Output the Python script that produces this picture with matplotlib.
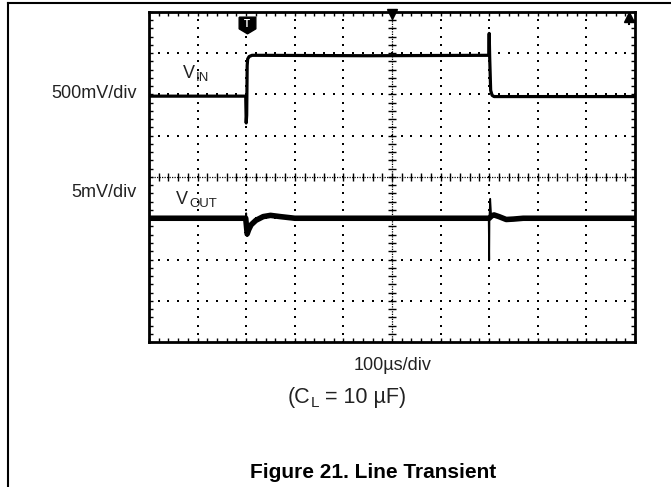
import matplotlib
matplotlib.use("Agg")
import matplotlib.pyplot as plt
from matplotlib.lines import Line2D
import numpy as np

plt.rcParams['font.family'] = ['Liberation Sans', 'DejaVu Sans']

# scope traces, in divisions (x: 0..10, y: 0..8)
vin_x = [0.0, 1.99, 2.0, 2.01, 2.02, 2.03, 2.06, 2.12, 2.2, 4.5, 6.99, 7.0, 7.01, 7.03, 7.06, 7.1, 8.5, 10.0]
vin_y = [5.96, 5.96, 5.31, 5.5, 6.7, 6.86, 6.92, 6.95, 6.95, 6.94, 6.95, 7.48, 6.9, 6.1, 5.98, 5.95, 5.95, 5.95]

# VOUT noise band (thick) and the thin switching spikes
vout_x = [0.0, 1.99, 2.02, 2.05, 2.1, 2.2, 2.35, 2.5, 2.7, 3.0, 7.0, 7.05, 7.1, 7.2, 7.35, 7.5, 7.7, 10.0]
vout_y = [3.0, 3.0, 2.62, 2.72, 2.84, 2.95, 3.04, 3.07, 3.04, 3.0, 3.0, 3.06, 3.08, 3.04, 2.97, 2.98, 3.0, 3.0]
spike1_x = [1.99, 2.0, 2.02]
spike1_y = [3.0, 3.12, 2.57]
spike2_x = [6.99, 7.0, 7.005, 7.02, 7.04]
spike2_y = [3.0, 1.99, 3.0, 3.47, 3.05]

n_xdiv = 10
n_ydiv = 8
trig_x = 2.02

W, H = 671, 487
fig = plt.figure(figsize=(W / 100, H / 100), dpi=100)
renderer = fig.canvas.get_renderer()


def fx(px):
    return px / W


def fy(py):
    return 1 - py / H


def rich(x_px, y_px, parts, gap=0, **kw):
    # draw text pieces one after another (for subscripts)
    x = x_px
    for s, size, dy in parts:
        t = fig.text(fx(x), fy(y_px + dy), s, fontsize=size, ha='left', va='center', **kw)
        x += t.get_window_extent(renderer).width + gap


# outer page frame
fig.add_artist(Line2D([fx(8), 1], [fy(2.5), fy(2.5)], color='black', lw=1.5))
fig.add_artist(Line2D([fx(8), fx(8)], [0, fy(2.5)], color='black', lw=1.5))

left, right, top, bottom = 149, 635, 12, 342
ax = fig.add_axes([fx(left), fy(bottom), fx(right - left), (bottom - top) / H])
ax.set_xlim(0, n_xdiv)
ax.set_ylim(0, n_ydiv)
for s in ax.spines.values():
    s.set_linewidth(2.0)

ax.set_xticks(np.arange(0, n_xdiv + 0.01, 0.2))
ax.set_yticks(np.arange(0, n_ydiv + 0.01, 0.2))
ax.tick_params(direction='in', length=3, width=1, top=True, right=True,
               labelbottom=False, labelleft=False)

# dotted graticule
fine_x = np.arange(0, n_xdiv + 0.01, 0.2)
fine_y = np.arange(0, n_ydiv + 0.01, 0.2)
for gy in range(1, n_ydiv):
    if gy == n_ydiv // 2:
        continue
    ax.plot(fine_x, np.full_like(fine_x, gy), 's', color='black', ms=1.5, mew=0)
for gx in range(1, n_xdiv):
    if gx == n_xdiv // 2:
        continue
    ax.plot(np.full_like(fine_y, gx), fine_y, 's', color='black', ms=1.5, mew=0)

# center axes with cross ticks
cx, cy = n_xdiv / 2, n_ydiv / 2
ax.plot([0, n_xdiv], [cy, cy], color='black', lw=0.9, ls=(0, (1, 1)))
ax.plot([cx, cx], [0, n_ydiv], color='black', lw=0.9, ls=(0, (1, 1)))
ax.plot(fine_x, np.full_like(fine_x, cy), '|', color='black', ms=6, mew=1)
ax.plot(np.full_like(fine_y, cx), fine_y, '_', color='black', ms=6, mew=1)

# traces
ax.plot(vin_x, vin_y, color='black', lw=2.3, solid_joinstyle='round')
ax.plot(vout_x, vout_y, color='black', lw=4.0, solid_joinstyle='round')
ax.plot(spike1_x, spike1_y, color='black', lw=1.3)
ax.plot(spike2_x, spike2_y, color='black', lw=1.3)

# scope markers
trig = [(-1, 1), (1, 1), (1, -0.4), (0, -1), (-1, -0.4), (-1, 1)]
ax.plot([trig_x], [7.68], marker=trig, color='black', ms=12, clip_on=False)
ax.text(trig_x, 7.72, 'T', color='white', fontsize=7, fontweight='bold',
        ha='center', va='center')
ax.plot([cx], [7.94], marker='v', color='black', ms=7, clip_on=False)
ax.plot([9.88], [7.88], marker='^', color='black', ms=7, clip_on=False)
ax.plot([9.88, 9.88], [7.7, 7.9], color='black', lw=1.5)

ink = '#222222'
rich(183, 73, [('V', 13, 0), ('IN', 9.5, 5)], gap=1, color=ink)
rich(176, 199, [('V', 13, 0), ('OUT', 9.5, 5)], gap=1, color=ink)

# labels outside the screen
fig.text(fx(137), fy(94), '500mV/div', fontsize=13, color=ink, ha='right', va='center')
fig.text(fx(137), fy(192), '5mV/div', fontsize=13, color=ink, ha='right', va='center')
fig.text(fx(393), fy(366), '100\u00b5s/div', fontsize=13, color=ink, ha='center', va='center')
rich(288, 398, [('(C', 15.5, 0), ('L', 11, 5), (' = 10 \u00b5F)', 15.5, 0)], color=ink)
fig.text(fx(373), fy(473), 'Figure 21. Line Transient', fontsize=15, fontweight='bold',
         color='black', ha='center', va='center')

fig.savefig('out.png', dpi=100)
